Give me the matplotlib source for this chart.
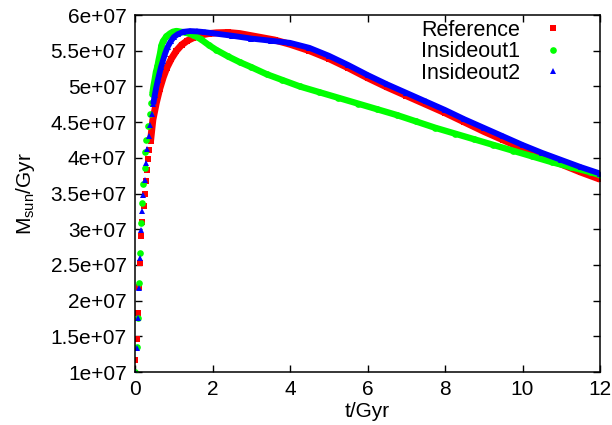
import numpy as np
import matplotlib.pyplot as plt
from matplotlib.ticker import FuncFormatter, MultipleLocator

plt.rcParams['font.family'] = ['Liberation Sans', 'DejaVu Sans']
plt.rcParams['mathtext.fontset'] = 'custom'
plt.rcParams['mathtext.rm'] = 'Liberation Sans'

# --- data (rates in units of 1e7 Msun/Gyr) ---
t_ref = [0.00, 0.04, 0.07, 0.10, 0.13, 0.16, 0.19, 0.22, 0.25, 0.28, 0.31, 0.34, 0.37, 0.40,
         0.46, 0.55, 0.64, 0.73, 0.82, 0.94, 1.07, 1.20, 1.35, 1.50, 1.70, 1.90, 2.10, 2.40,
         2.70, 3.00, 3.30, 3.60, 4.00, 4.50, 5.00, 5.50, 6.00, 6.50, 7.00, 7.50, 8.00, 8.50,
         9.00, 9.50, 10.00, 10.50, 11.00, 11.50, 12.00]
m_ref = [1.17, 1.46, 1.82, 2.19, 2.53, 2.90, 3.10, 3.32, 3.50, 3.68, 3.83, 3.99, 4.11, 4.23,
         4.53, 4.77, 4.97, 5.13, 5.26, 5.39, 5.50, 5.58, 5.64, 5.68, 5.72, 5.74, 5.75, 5.755,
         5.74, 5.71, 5.68, 5.65, 5.59, 5.50, 5.39, 5.26, 5.12, 4.99, 4.87, 4.75, 4.63, 4.50,
         4.37, 4.25, 4.13, 4.02, 3.91, 3.80, 3.70]

t_io1 = [0.00, 0.06, 0.08, 0.10, 0.13, 0.16, 0.19, 0.21, 0.25, 0.27, 0.29, 0.34, 0.38, 0.42,
         0.45, 0.48, 0.51, 0.54, 0.58, 0.61, 0.65, 0.68, 0.72, 0.81, 0.90, 0.98, 1.07, 1.30,
         1.50, 1.70, 1.90, 2.10, 2.40, 2.70, 3.00, 3.40, 3.80, 4.25, 4.75, 5.25, 5.75, 6.25,
         6.75, 7.25, 7.75, 8.25, 8.75, 9.25, 9.75, 10.25, 10.75, 11.25, 11.75, 12.00]
m_io1 = [1.00, 1.35, 1.76, 2.24, 2.67, 3.09, 3.37, 3.63, 3.86, 4.08, 4.25, 4.45, 4.62, 4.77,
         4.90, 5.01, 5.10, 5.20, 5.28, 5.37, 5.47, 5.57, 5.63, 5.70, 5.74, 5.765, 5.775, 5.755,
         5.72, 5.66, 5.58, 5.51, 5.42, 5.34, 5.27, 5.17, 5.09, 5.00, 4.92, 4.84, 4.76, 4.68,
         4.60, 4.51, 4.42, 4.34, 4.26, 4.18, 4.10, 4.02, 3.94, 3.87, 3.80, 3.76]

t_io2 = [0.00, 0.05, 0.08, 0.10, 0.14, 0.16, 0.19, 0.21, 0.25, 0.28, 0.31, 0.35, 0.39, 0.43,
         0.47, 0.51, 0.55, 0.59, 0.63, 0.67, 0.72, 0.77, 0.84, 0.92, 1.00, 1.10, 1.25, 1.42,
         1.60, 1.80, 2.00, 2.50, 3.00, 3.50, 4.00, 4.50, 5.00, 5.50, 6.00, 6.50, 7.00, 7.50,
         8.00, 8.50, 9.00, 9.50, 10.00, 10.50, 11.00, 11.50, 12.00]
m_io2 = [1.00, 1.34, 1.75, 2.17, 2.59, 2.99, 3.26, 3.48, 3.69, 3.93, 4.12, 4.30, 4.46, 4.61,
         4.75, 4.88, 4.99, 5.09, 5.18, 5.27, 5.36, 5.45, 5.55, 5.63, 5.69, 5.73, 5.765, 5.775,
         5.77, 5.76, 5.745, 5.71, 5.67, 5.64, 5.61, 5.54, 5.43, 5.30, 5.16, 5.03, 4.91, 4.79,
         4.67, 4.54, 4.42, 4.30, 4.18, 4.07, 3.97, 3.87, 3.78]

series = [
    ('Reference', t_ref, m_ref, '#ff0000', 's', 4.8, 5.0, 0.40),
    ('Insideout1', t_io1, m_io1, '#00ff00', 'o', 4.8, 4.6, 0.45),
    ('Insideout2', t_io2, m_io2, '#0000ff', '^', 4.4, 4.2, 0.47),
]

fig = plt.figure(figsize=(6.12, 4.25), dpi=100)
ax = fig.add_axes([0.2206, 0.1247, 0.7598, 0.8400])

for name, t, m, col, mk, ms, lw, t0 in series:
    t = np.array(t)
    m = np.array(m) * 1e7
    ax.plot(t, m, linestyle='none', marker=mk, ms=ms, color=col, mec=col, mew=0, label=name)
    keep = t >= t0
    ax.plot(t[keep], m[keep], '-', color=col, lw=lw, solid_capstyle='butt')

ax.set_xlim(0, 12)
ax.set_ylim(1e7, 6e7)
ax.xaxis.set_major_locator(MultipleLocator(2))
ax.yaxis.set_major_locator(MultipleLocator(0.5e7))
ax.yaxis.set_major_formatter(FuncFormatter(lambda v, p: format(v, 'g')))
ax.tick_params(direction='in', length=5, width=1, labelsize=15, pad=6,
               top=True, right=True)
for s in ax.spines.values():
    s.set_linewidth(1.1)

ax.set_xlabel('t/Gyr', fontsize=15, labelpad=2)
ax.set_ylabel(r'M$_{\rm sun}$/Gyr', fontsize=15, labelpad=10)

ax.legend(loc='upper right', frameon=False, markerfirst=False, fontsize=15.5,
          handlelength=1.0, handletextpad=1.0, labelspacing=0.02, borderaxespad=0.0,
          numpoints=1, bbox_to_anchor=(0.94, 1.011))

fig.savefig('out.png', dpi=100)
